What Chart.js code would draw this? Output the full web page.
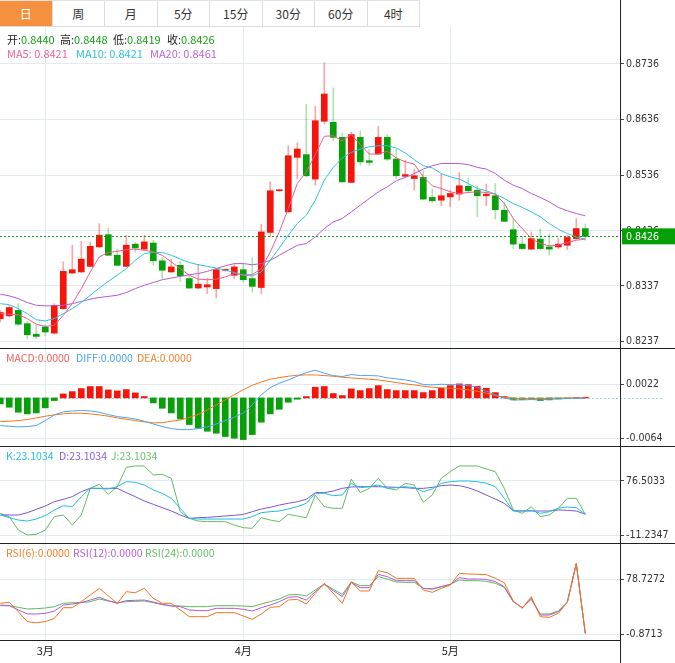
<!DOCTYPE html>
<html>
<head>
<meta charset="utf-8">
<script src="https://cdn.jsdelivr.net/npm/chart.js@4.4.0/dist/chart.umd.min.js"></script>
<style>
body { margin: 0; width: 675px; height: 663px; overflow: hidden; background: #fff; position: relative;
  font-family: "Microsoft YaHei", "Noto Sans CJK SC", sans-serif; }
.tabs { position: absolute; left: 0; top: 0; width: 420px; height: 27px; display: flex; box-sizing: border-box;
  border-top: 1px solid #e2e2e2; border-bottom: 1px solid #dcdcdc; }
.tabs div { width: 52.5px; box-sizing: border-box; border-right: 1px solid #dcdcdc; text-align: center;
  line-height: 25px; font-size: 12px; color: #333; }
.tabs div.on { background: #f5903e; color: #fff; }
canvas { position: absolute; left: 0; }
.lg { position: absolute; white-space: nowrap; font-size: 11px; line-height: 14px; z-index: 2; }
.lg span { position: absolute; top: 0; }
.sm { font-size: 10.5px; }
.hl { position: absolute; left: 0; height: 1px; background: #222; z-index: 3; }
.vl { position: absolute; left: 620px; top: 0; width: 1px; height: 663px; background: #222; z-index: 3; }
</style>
</head>
<body>
<div class="tabs">
  <div class="on">日</div><div>周</div><div>月</div><div>5分</div><div>15分</div><div>30分</div><div>60分</div><div>4时</div>
</div>

<div class="lg" style="top:32px;left:0">
  <span style="left:7px"><b style="font-weight:normal;color:#222">开:</b><i style="font-style:normal;color:#13a013">0.8440</i></span>
  <span style="left:60px"><b style="font-weight:normal;color:#222">高:</b><i style="font-style:normal;color:#13a013">0.8448</i></span>
  <span style="left:113px"><b style="font-weight:normal;color:#222">低:</b><i style="font-style:normal;color:#13a013">0.8419</i></span>
  <span style="left:167px"><b style="font-weight:normal;color:#222">收:</b><i style="font-style:normal;color:#13a013">0.8426</i></span>
</div>
<div class="lg" style="top:46px;left:0">
  <span style="left:7px;color:#f0649a">MA5: 0.8421</span>
  <span style="left:76px;color:#2fc2e0">MA10: 0.8421</span>
  <span style="left:150px;color:#b967d4">MA20: 0.8461</span>
</div>
<div class="lg sm" style="top:351px;left:0">
  <span style="left:6px;color:#f5605a">MACD:0.0000</span>
  <span style="left:76px;color:#4ea5f0">DIFF:0.0000</span>
  <span style="left:137px;color:#f5822a">DEA:0.0000</span>
</div>
<div class="lg sm" style="top:449px;left:0">
  <span style="left:6px;color:#2cc0dc">K:23.1034</span>
  <span style="left:59px;color:#8a5fd6">D:23.1034</span>
  <span style="left:111px;color:#6cc16c">J:23.1034</span>
</div>
<div class="lg sm" style="top:546px;left:0">
  <span style="left:6px;color:#f77f25">RSI(6):0.0000</span>
  <span style="left:73px;color:#b85fd3">RSI(12):0.0000</span>
  <span style="left:145px;color:#67be67">RSI(24):0.0000</span>
</div>

<canvas id="main" width="675" height="322" style="top:27px"></canvas>
<canvas id="macd" width="675" height="98" style="top:349px"></canvas>
<canvas id="kdj" width="675" height="97" style="top:447px"></canvas>
<canvas id="rsi" width="675" height="119" style="top:544px"></canvas>

<div class="hl" style="top:348px;width:675px"></div>
<div class="hl" style="top:446px;width:675px"></div>
<div class="hl" style="top:543px;width:675px"></div>
<div class="hl" style="top:640px;width:621px"></div>
<div class="vl"></div>

<script>
// daily candles, Feb end .. May
const opens = [0.8278,0.8283,0.8293,0.8269,0.8250,0.8263,0.8252,0.8296,0.8360,0.8362,
  0.8372,0.8407,0.8429,0.8392,0.8372,0.8412,0.8403,0.8414,0.8382,0.8362,
  0.8374,0.8350,0.8333,0.8335,0.8332,0.8365,0.8356,0.8366,0.8350,0.8334,
  0.8433,0.8508,0.8470,0.8568,0.8573,0.8529,0.8633,0.8631,0.8604,0.8523,
  0.8604,0.8562,0.8574,0.8604,0.8565,0.8534,0.8530,0.8532,0.8496,0.8491,
  0.8497,0.8502,0.8516,0.8509,0.8499,0.8499,0.8473,0.8438,0.8412,0.8403,
  0.8421,0.8407,0.8407,0.8410,0.8422,0.8440];
const highs = [0.8293,0.8301,0.8305,0.8273,0.8266,0.8267,0.8305,0.8380,0.8410,0.8417,
  0.8416,0.8449,0.8441,0.8403,0.8428,0.8415,0.8428,0.8419,0.8388,0.8385,
  0.8381,0.8356,0.8376,0.8351,0.8368,0.8367,0.8377,0.8376,0.8387,0.8448,
  0.8524,0.8510,0.8589,0.8594,0.8663,0.8660,0.8738,0.8693,0.8612,0.8613,
  0.8616,0.8582,0.8624,0.8610,0.8583,0.8563,0.8547,0.8543,0.8511,0.8538,
  0.8509,0.8541,0.8530,0.8518,0.8520,0.8521,0.8488,0.8457,0.8425,0.8434,
  0.8439,0.8430,0.8423,0.8428,0.8458,0.8448];
const lows = [0.8272,0.8281,0.8265,0.8242,0.8242,0.8247,0.8250,0.8295,0.8359,0.8361,
  0.8371,0.8405,0.8391,0.8373,0.8371,0.8398,0.8401,0.8374,0.8350,0.8361,
  0.8345,0.8332,0.8332,0.8323,0.8315,0.8363,0.8350,0.8344,0.8326,0.8323,
  0.8425,0.8507,0.8469,0.8530,0.8533,0.8518,0.8628,0.8598,0.8523,0.8522,
  0.8554,0.8553,0.8573,0.8562,0.8530,0.8533,0.8509,0.8492,0.8487,0.8481,
  0.8479,0.8491,0.8506,0.8461,0.8481,0.8457,0.8452,0.8404,0.8403,0.8402,
  0.8403,0.8392,0.8404,0.8402,0.8421,0.8419];
const closes = [0.8289,0.8298,0.8268,0.8249,0.8246,0.8254,0.8302,0.8363,0.8366,0.8385,
  0.8408,0.8428,0.8392,0.8374,0.8410,0.8405,0.8416,0.8382,0.8365,0.8371,
  0.8355,0.8333,0.8340,0.8339,0.8366,0.8366,0.8371,0.8348,0.8336,0.8434,
  0.8508,0.8509,0.8571,0.8583,0.8535,0.8634,0.8682,0.8604,0.8524,0.8609,
  0.8560,0.8559,0.8604,0.8565,0.8535,0.8537,0.8535,0.8493,0.8490,0.8499,
  0.8503,0.8517,0.8508,0.8499,0.8502,0.8474,0.8453,0.8412,0.8404,0.8422,
  0.8404,0.8403,0.8412,0.8424,0.8440,0.8426];

const ma5 = [0.8287,0.8286,0.8285,0.8278,0.8268,0.8264,0.8266,0.8284,0.8305,0.8332,
  0.8362,0.8389,0.8397,0.8399,0.8402,0.8403,0.8401,0.8398,0.8392,0.8380,
  0.8368,0.8356,0.8349,0.8348,0.8349,0.8353,0.8359,0.8357,0.8357,0.8368,
  0.8398,0.8434,0.8476,0.8521,0.8542,0.8573,0.8606,0.8607,0.8598,0.8609,
  0.8591,0.8574,0.8574,0.8579,0.8567,0.8560,0.8556,0.8533,0.8517,0.8512,
  0.8506,0.8503,0.8505,0.8506,0.8505,0.8502,0.8485,0.8458,0.8440,0.8422,
  0.8413,0.8409,0.8410,0.8415,0.8419,0.8421];
const ma10 = [0.8305,0.8303,0.8296,0.8287,0.8276,0.8274,0.8278,0.8287,0.8296,0.8307,
  0.8320,0.8333,0.8345,0.8356,0.8368,0.8383,0.8395,0.8397,0.8397,0.8392,
  0.8385,0.8379,0.8375,0.8372,0.8369,0.8365,0.8361,0.8356,0.8355,0.8362,
  0.8383,0.8405,0.8428,0.8449,0.8464,0.8491,0.8527,0.8550,0.8567,0.8577,
  0.8583,0.8587,0.8589,0.8589,0.8585,0.8576,0.8564,0.8553,0.8549,0.8539,
  0.8533,0.8529,0.8521,0.8512,0.8508,0.8502,0.8494,0.8485,0.8478,0.8470,
  0.8461,0.8449,0.8439,0.8431,0.8425,0.8421];
const ma20 = [0.8322,0.8319,0.8314,0.8307,0.8302,0.8301,0.8301,0.8302,0.8305,0.8309,
  0.8313,0.8316,0.8318,0.8320,0.8325,0.8332,0.8338,0.8343,0.8348,0.8351,
  0.8354,0.8357,0.8359,0.8363,0.8368,0.8373,0.8377,0.8377,0.8375,0.8377,
  0.8383,0.8392,0.8401,0.8410,0.8413,0.8425,0.8440,0.8452,0.8458,0.8470,
  0.8482,0.8494,0.8506,0.8515,0.8526,0.8532,0.8539,0.8547,0.8553,0.8557,
  0.8557,0.8557,0.8555,0.8550,0.8547,0.8539,0.8527,0.8518,0.8512,0.8503,
  0.8496,0.8488,0.8478,0.8472,0.8467,0.8463];

const macdBars = [-0.00095,-0.00148,-0.00227,-0.00253,-0.00238,-0.00158,-0.00042,0.00063,0.0010,0.00148,
  0.0018,0.0018,0.00127,0.00111,0.00132,0.00079,0.00021,-0.00079,-0.00164,-0.00238,
  -0.00333,-0.00422,-0.0048,-0.00528,-0.0056,-0.00612,-0.00639,-0.0066,-0.00581,-0.00385,
  -0.00253,-0.0018,-0.00069,-0.00021,0.00021,0.00169,0.0018,0.00069,0.00037,0.00143,
  0.00116,0.00148,0.00195,0.00132,0.00116,0.00116,0.00116,0.00084,0.00116,0.00158,
  0.00195,0.00222,0.00211,0.00185,0.00153,0.00084,0.00021,-0.00032,-0.00026,-0.00021,
  -0.00042,-0.00032,-0.00016,-0.00005,0.00005,0.0001];
const diffLine = [-0.00438,-0.00449,-0.00459,-0.00454,-0.00438,-0.00359,-0.00269,-0.00222,-0.00206,-0.00201,
  -0.00206,-0.00227,-0.00264,-0.00296,-0.00312,-0.00333,-0.0037,-0.00412,-0.00454,-0.00486,
  -0.00502,-0.00502,-0.00486,-0.00459,-0.00412,-0.00359,-0.00306,-0.00238,-0.00111,0.00048,
  0.00164,0.00232,0.00285,0.00343,0.00401,0.00438,0.00391,0.00354,0.00338,0.0037,
  0.00354,0.00354,0.00348,0.00317,0.00301,0.00285,0.00259,0.00211,0.00206,0.00216,
  0.00211,0.00206,0.00195,0.00169,0.00106,0.00048,0,-0.00032,-0.00032,-0.00026,
  -0.00032,-0.00021,-0.00016,-0.00011,-0.00005,-0.00005];
const deaLine = [-0.00375,-0.0037,-0.00359,-0.00343,-0.00317,-0.0029,-0.00269,-0.00253,-0.00243,-0.00243,
  -0.00253,-0.00269,-0.0029,-0.00317,-0.00338,-0.00359,-0.0038,-0.00396,-0.00391,-0.0037,
  -0.0035,-0.0031,-0.0026,-0.0019,-0.0011,-0.0003,0.0005,0.0013,0.0020,0.00253,
  0.00296,0.00322,0.00343,0.00359,0.00364,0.00364,0.00354,0.00343,0.00327,0.00317,
  0.00306,0.00296,0.00285,0.00264,0.00243,0.00222,0.00206,0.00185,0.00169,0.00158,
  0.00153,0.00143,0.00127,0.00106,0.00074,0.00037,0.00011,-0.00005,-0.00011,-0.00011,
  -0.00011,-0.00005,-0.00005,0,0,0];

const kLine = [22.0,17.7,13.9,12.3,15.5,20.9,30.0,36.9,35.3,51.4,
  64.7,64.7,63.7,67.4,75.4,74.4,70.1,62.1,56.7,48.7,
  32.7,16.6,15.5,15.5,15.5,15.5,15.5,15.5,19.3,25.7,
  27.3,28.4,31.6,35.3,40.7,56.7,56.7,53.0,54.0,72.8,
  65.8,67.4,70.1,64.7,65.8,67.4,65.8,59.4,63.7,72.8,
  75.4,76.5,76.5,75.4,72.8,67.4,48.7,28.4,28.4,29.4,
  24.6,27.3,32.7,34.8,33.7,23.1];
const dLine = [22.0,22.0,22.0,25.7,31.0,36.4,43.3,47.1,51.4,59.4,
  64.7,64.7,64.7,64.7,57.8,51.4,44.4,39.1,33.7,28.4,
  22.0,16.6,17.7,18.2,19.3,20.4,21.4,23.0,27.3,31.6,
  34.3,38.0,40.7,43.3,47.1,57.8,57.8,60.5,64.7,66.9,
  67.4,67.4,67.4,66.9,66.3,65.8,64.7,64.7,66.3,69.0,
  70.1,69.0,65.8,60.5,54.0,47.6,40.7,28.9,28.4,28.4,
  28.4,28.4,30.0,29.4,28.4,23.1];
const jLine = [24.6,19.3,-2.1,-10.1,-9.1,-2.1,19.3,22.0,5.9,22.0,
  64.7,71.2,55.1,67.4,98.4,100.6,100.6,86.1,87.2,80.8,
  27.3,16.6,12.3,11.3,11.3,11.3,5.9,1.6,0.6,17.7,
  13.9,11.3,23.0,20.4,17.7,54.0,35.3,32.7,32.7,79.7,
  57.8,64.7,80.8,64.7,62.1,72.8,70.1,42.3,54.0,80.8,
  91.5,100.6,100.6,100.6,95.8,91.5,64.7,30.0,24.6,35.3,
  19.3,22.0,32.7,48.7,48.7,23.1];

const rsi6 = [43.5,45.0,31.4,17.0,15.5,17.0,21.8,37.2,37.2,45.9,
  55.6,65.2,54.6,43.5,60.4,58.9,65.2,50.7,43.5,43.5,
  33.9,24.2,24.2,24.2,30.0,30.0,30.0,25.2,20.4,28.1,
  37.7,38.7,48.3,49.3,42.5,58.0,72.5,58.0,43.5,74.4,
  61.4,61.4,90.8,87.9,79.7,79.7,79.7,62.8,59.4,65.2,
  70.0,86.9,86.0,85.5,85.0,79.7,73.4,46.9,36.3,53.2,
  24.2,23.2,29.0,45.0,101,0];
const rsi12 = [40.1,40.1,33.9,28.1,28.1,29.0,32.4,41.1,42.5,44.5,
  48.3,52.2,47.4,43.5,47.4,47.9,48.3,45.4,42.1,39.6,
  38.7,33.9,32.9,32.9,36.3,36.3,36.3,34.8,32.4,37.2,
  41.1,45.9,52.2,53.2,48.3,60.4,71.0,61.9,53.2,73.4,
  66.2,66.2,85.5,82.1,76.3,76.3,76.3,65.2,64.3,67.6,
  71.0,80.7,78.7,78.7,78.2,74.9,67.6,45.9,37.2,50.7,
  26.6,26.6,31.4,45.0,101,0];
const rsi24 = [41.1,40.1,37.7,35.3,35.8,36.8,38.7,43.5,44.5,44.5,
  45.9,49.8,46.9,44.5,45.9,46.4,46.9,44.5,41.6,40.1,
  39.6,38.7,38.7,38.7,40.1,40.1,40.1,39.6,38.7,42.5,
  45.9,49.8,55.6,56.5,54.1,62.8,71.5,63.8,56.5,74.4,
  69.1,69.1,82.1,78.7,74.4,73.9,73.9,65.2,64.3,67.6,
  71.0,77.3,76.3,76.3,75.4,72.5,66.7,45.9,37.2,49.3,
  28.1,28.1,32.4,45.0,101,0];

const monthIdx = [5, 27, 50];
const monthLabels = ['3月', '4月', '5月'];
const priceTicks = [0.8237, 0.8337, 0.8436, 0.8536, 0.8636, 0.8736];
const macdTicks = [-0.0064, 0.0022];
const kdjTicks = [-11.2347, 76.5033];
const rsiTicks = [-0.8713, 78.7272];

const gridColor = '#e3ebf1';
const upColor = '#f5150b', downColor = '#08a008';
const upWick = 'rgba(245,21,11,0.38)', downWick = 'rgba(8,160,8,0.32)';
const axisFont = { family: '"Liberation Sans Narrow","DejaVu Sans Condensed",sans-serif', size: 10.5 };
// x range picked so that candle k lands on 0.3 + 9k px of a 620px plot
const xMin = -0.033, xMax = 68.856;

function pts(arr) { return arr.map((v, i) => ({ x: i, y: v })); }
function line(arr, color) {
  return { type: 'line', data: pts(arr), borderColor: color, borderWidth: 1, pointRadius: 0, tension: 0 };
}

function opts(yMin, yMax, yTicks, showMonths) {
  return {
    responsive: false, animation: false, events: [],
    layout: { padding: 0 },
    plugins: { legend: { display: false }, tooltip: { enabled: false } },
    scales: {
      x: {
        type: 'linear', min: xMin, max: xMax, offset: false,
        grid: { color: gridColor, drawTicks: false, offset: false },
        border: { display: false },
        ticks: { display: showMonths, autoSkip: false, maxRotation: 0, padding: 4, color: '#222',
          font: { family: '"Microsoft YaHei","Noto Sans CJK SC",sans-serif', size: 11 },
          callback: (v, i) => monthLabels[i] },
        afterBuildTicks: s => { s.ticks = monthIdx.map(v => ({ value: v })); },
        afterFit: s => { s.height = showMonths ? 23 : 0; s.paddingLeft = 0; s.paddingRight = 0; }
      },
      y: {
        position: 'right', min: yMin, max: yMax,
        grid: { color: gridColor, tickColor: '#444', tickLength: 4 },
        border: { display: false },
        ticks: { font: axisFont, color: '#333', padding: 2, callback: v => Number(v).toFixed(4) },
        afterBuildTicks: s => { s.ticks = yTicks.map(v => ({ value: v })); },
        afterFit: s => { s.width = 55; s.paddingTop = 0; s.paddingBottom = 0; }
      }
    }
  };
}

// last price dotted line + green tag on the axis
const lastPrice = {
  id: 'lastPrice',
  afterDraw(chart) {
    const ctx = chart.ctx, y = chart.scales.y.getPixelForValue(closes[closes.length - 1]);
    const a = chart.chartArea;
    ctx.save();
    ctx.strokeStyle = '#139a13'; ctx.lineWidth = 1; ctx.setLineDash([2, 2]);
    ctx.beginPath(); ctx.moveTo(a.left, Math.round(y) + 0.5); ctx.lineTo(a.right, Math.round(y) + 0.5); ctx.stroke();
    ctx.setLineDash([]);
    ctx.fillStyle = '#05a005';
    ctx.fillRect(a.right + 2, y - 8, 675 - a.right - 2, 16);
    ctx.fillStyle = '#fff';
    ctx.font = '10.5px "Liberation Sans Narrow","DejaVu Sans Condensed",sans-serif';
    ctx.textBaseline = 'middle';
    ctx.fillText(closes[closes.length - 1].toFixed(4), a.right + 6, y + 0.5);
    ctx.restore();
  }
};

const zeroLine = {
  id: 'zeroLine',
  beforeDatasetsDraw(chart) {
    const ctx = chart.ctx, y = Math.round(chart.scales.y.getPixelForValue(0)) + 0.5;
    ctx.save();
    ctx.strokeStyle = '#9fd3ee'; ctx.lineWidth = 1; ctx.setLineDash([2, 2]);
    ctx.beginPath(); ctx.moveTo(0, y); ctx.lineTo(662, y); ctx.stroke();
    ctx.restore();
  }
};

const isUp = opens.map((o, i) => closes[i] >= o);

new Chart(document.getElementById('main'), {
  type: 'bar',
  data: {
    datasets: [
      line(ma5, '#ef5b8e'),
      line(ma10, '#2cc3e2'),
      line(ma20, '#b65ad3'),
      { data: opens.map((o, i) => ({ x: i, y: [o, closes[i]] })),
        backgroundColor: isUp.map(u => u ? upColor : downColor),
        barThickness: 6, minBarLength: 1, grouped: false, borderWidth: 0 },
      { data: lows.map((l, i) => ({ x: i, y: [l, highs[i]] })),
        backgroundColor: isUp.map(u => u ? upWick : downWick),
        barThickness: 1, grouped: false, borderWidth: 0 }
    ]
  },
  options: opts(0.82234, 0.88025, priceTicks, false),
  plugins: [lastPrice]
});

new Chart(document.getElementById('macd'), {
  type: 'bar',
  data: {
    datasets: [
      line(diffLine, '#4ea3ee'),
      line(deaLine, '#f5781c'),
      { data: pts(macdBars), backgroundColor: macdBars.map(v => v >= 0 ? upColor : downColor),
        barThickness: 6, grouped: false, borderWidth: 0 }
    ]
  },
  options: opts(-0.007776, 0.007745, macdTicks, false),
  plugins: [zeroLine]
});

new Chart(document.getElementById('kdj'), {
  type: 'line',
  data: { datasets: [line(kLine, '#22bedb'), line(dLine, '#7d55d3'), line(jLine, '#63bb63')] },
  options: opts(-24.55, 131.04, kdjTicks, false)
});

new Chart(document.getElementById('rsi'), {
  type: 'line',
  data: { datasets: [line(rsi6, '#f6731a'), line(rsi12, '#b25ad2'), line(rsi24, '#5cb85c')] },
  options: opts(-9.55, 129.38, rsiTicks, true)
});
</script>
</body>
</html>
